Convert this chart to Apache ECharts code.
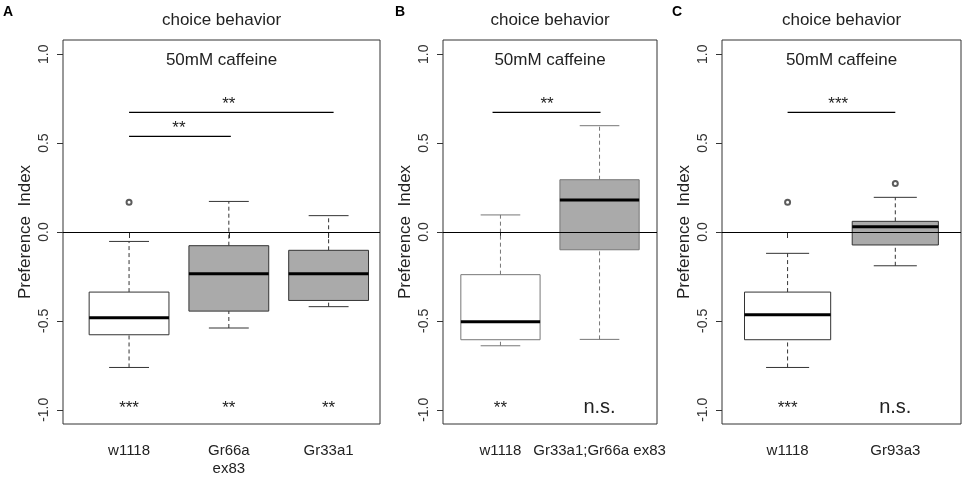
<!DOCTYPE html>
<html>
<head>
<meta charset="utf-8">
<script src="https://cdn.jsdelivr.net/npm/echarts@6/dist/echarts.min.js"></script>
<style>
  html, body { margin: 0; padding: 0; background: #fff; }
  #main { width: 964px; height: 478px; }
</style>
</head>
<body>
<div id="main"></div>
<script>
// panel A
const catsA = ['w1118', 'Gr66a\nex83', 'Gr33a1'];
// [x, low whisker, Q1, median, Q3, high whisker]
const boxA = [
  [1, -0.762, -0.578, -0.482, -0.338, -0.053],
  [2, -0.54, -0.445, -0.235, -0.077, 0.172],
  [3, -0.42, -0.385, -0.235, -0.103, 0.092]
];
const outA = [[1, 0.167]];
const starsA = [[1, -1, '***'], [2, -1, '**'], [3, -1, '**']];
// [x from, x to, y, text, text x]
const sigA = [[1.0, 3.05, 0.673, '**', 2.0], [1.0, 2.02, 0.538, '**', 1.5]];

// panel B
const catsB = ['w1118', 'Gr33a1;Gr66a ex83'];
const boxB = [
  [1, -0.64, -0.606, -0.505, -0.24, 0.096],
  [2, -0.604, -0.1, 0.18, 0.294, 0.598]
];
const outB = [];
const starsB = [[1, -1, '**'], [2, -1, 'n.s.']];
const sigB = [[0.92, 2.01, 0.673, '**', 1.47]];

// panel C
const catsC = ['w1118', 'Gr93a3'];
const boxC = [
  [1, -0.762, -0.606, -0.465, -0.338, -0.12],
  [2, -0.19, -0.073, 0.03, 0.06, 0.195]
];
const outC = [[1, 0.167], [2, 0.273]];
const starsC = [[1, -1, '***'], [2, -1, 'n.s.']];
const sigC = [[1.0, 2.0, 0.673, '***', 1.47]];

const yTicks = [-1, -0.5, 0, 0.5, 1];
const FONT = '"Liberation Sans", Arial, sans-serif';

// pixel layout of the three plot frames, and x ranges
const panels = [
  { letter: 'A', cats: catsA, box: boxA, out: outA, stars: starsA, sig: sigA,
    left: 63, width: 317, xmin: 0.338, xmax: 3.515, edge: '#333', fills: ['#fff', '#aaa', '#aaa'] },
  { letter: 'B', cats: catsB, box: boxB, out: outB, stars: starsB, sig: sigB,
    left: 443, width: 214, xmin: 0.42, xmax: 2.58, edge: '#777', fills: ['#fff', '#aaa'] },
  { letter: 'C', cats: catsC, box: boxC, out: outC, stars: starsC, sig: sigC,
    left: 722, width: 239, xmin: 0.391, xmax: 2.61, edge: '#333', fills: ['#fff', '#aaa'] }
];
const letterX = [3, 395, 672];

const grid = [], xAxis = [], yAxis = [], series = [], graphic = [];

panels.forEach(function (p, i) {
  grid.push({ left: p.left, top: 40, width: p.width, height: 384,
    outerBoundsMode: 'none', containLabel: false,
    show: true, borderColor: '#333', borderWidth: 1, backgroundColor: 'transparent' });

  xAxis.push({
    type: 'value', gridIndex: i, min: p.xmin, max: p.xmax,
    axisLine: { show: false }, splitLine: { show: false },
    axisTick: { show: true, customValues: p.cats.map(function (c, k) { return k + 1; }),
      length: 6, lineStyle: { color: '#333' } },
    axisLabel: {
      customValues: p.cats.map(function (c, k) { return k + 1; }),
      formatter: function (v) { return p.cats[Math.round(v) - 1]; },
      margin: 18, fontSize: 15, color: '#222', fontFamily: FONT, lineHeight: 18,
      verticalAlign: 'top'
    }
  });

  yAxis.push({
    type: 'value', gridIndex: i, min: -1.08, max: 1.08,
    name: 'Preference  Index', nameLocation: 'middle', nameGap: 29, nameRotate: 90,
    nameTextStyle: { fontSize: 17, color: '#222', fontFamily: FONT },
    axisLine: { show: false }, splitLine: { show: false },
    axisTick: { show: true, customValues: yTicks, length: 6, lineStyle: { color: '#333' } },
    axisLabel: {
      customValues: yTicks, rotate: 90, margin: 12, fontSize: 14, color: '#333',
      fontFamily: FONT, formatter: function (v) { return v.toFixed(1); }
    }
  });

  // boxes
  series.push({
    type: 'custom', xAxisIndex: i, yAxisIndex: i, data: p.box,
    renderItem: function (params, api) {
      const x = api.value(0);
      const lo = api.coord([x, api.value(1)]);
      const q1 = api.coord([x, api.value(2)]);
      const md = api.coord([x, api.value(3)]);
      const q3 = api.coord([x, api.value(4)]);
      const hi = api.coord([x, api.value(5)]);
      const hw = api.size([0.4, 0])[0];
      const sw = api.size([0.2, 0])[0];
      const cx = q1[0];
      const dash = { stroke: p.edge, lineWidth: 1, lineDash: [4, 3] };
      const solid = { stroke: p.edge, lineWidth: 1 };
      return {
        type: 'group',
        children: [
          { type: 'line', shape: { x1: cx, y1: q3[1], x2: cx, y2: hi[1] }, style: dash },
          { type: 'line', shape: { x1: cx, y1: lo[1], x2: cx, y2: q1[1] }, style: dash },
          { type: 'line', shape: { x1: cx - sw, y1: hi[1], x2: cx + sw, y2: hi[1] }, style: solid },
          { type: 'line', shape: { x1: cx - sw, y1: lo[1], x2: cx + sw, y2: lo[1] }, style: solid },
          { type: 'rect', shape: { x: cx - hw, y: q3[1], width: hw * 2, height: q1[1] - q3[1] },
            style: { fill: p.fills[params.dataIndex], stroke: p.edge, lineWidth: 1 } },
          { type: 'line', shape: { x1: cx - hw, y1: md[1], x2: cx + hw, y2: md[1] },
            style: { stroke: '#000', lineWidth: 3 } }
        ]
      };
    },
    markLine: {
      silent: true, symbol: 'none', label: { show: false },
      lineStyle: { color: '#000', type: 'solid', width: 1 },
      data: [{ yAxis: 0 }], z: 10
    },
    z: 2
  });

  // outliers
  series.push({
    type: 'scatter', xAxisIndex: i, yAxisIndex: i, data: p.out,
    symbol: 'emptyCircle', symbolSize: 5,
    itemStyle: { color: '#333', borderColor: '#333', borderWidth: 1 }, z: 3
  });

  // significance bars
  series.push({
    type: 'custom', xAxisIndex: i, yAxisIndex: i, data: p.sig,
    renderItem: function (params, api) {
      const a = api.coord([api.value(0), api.value(2)]);
      const b = api.coord([api.value(1), api.value(2)]);
      const t = api.coord([api.value(4), api.value(2)]);
      return {
        type: 'group',
        children: [
          { type: 'line', shape: { x1: a[0], y1: a[1], x2: b[0], y2: b[1] },
            style: { stroke: '#000', lineWidth: 1.3 } },
          { type: 'text', x: t[0], y: t[1] - 8,
            style: { text: p.sig[params.dataIndex][3], fontSize: 17, fontFamily: FONT,
              fill: '#222', align: 'center', verticalAlign: 'middle' } }
        ]
      };
    },
    z: 4
  });

  // per-group stars at the bottom
  series.push({
    type: 'custom', xAxisIndex: i, yAxisIndex: i, data: p.stars,
    renderItem: function (params, api) {
      const c = api.coord([api.value(0), api.value(1)]);
      const txt = p.stars[params.dataIndex][2];
      const ns = txt === 'n.s.';
      return {
        type: 'text', x: c[0], y: ns ? c[1] - 2 : c[1] - 1,
        style: { text: txt, fontSize: ns ? 20 : 17, fontFamily: FONT, fill: '#222',
          align: 'center', verticalAlign: 'middle' }
      };
    },
    z: 4
  });

  const cx = p.left + p.width / 2;
  graphic.push({ type: 'text', x: cx, y: 20,
    style: { text: 'choice behavior', fontSize: 17, fontFamily: FONT, fill: '#222',
      align: 'center', verticalAlign: 'middle' } });
  graphic.push({ type: 'text', x: cx, y: 60,
    style: { text: '50mM caffeine', fontSize: 17, fontFamily: FONT, fill: '#222',
      align: 'center', verticalAlign: 'middle' } });
  graphic.push({ type: 'text', x: letterX[i], y: 5,
    style: { text: p.letter, fontSize: 14, fontWeight: 'bold', fontFamily: FONT, fill: '#000' } });
});

const chart = echarts.init(document.getElementById('main'));
chart.setOption({
  animation: false,
  grid: grid,
  xAxis: xAxis,
  yAxis: yAxis,
  series: series,
  graphic: graphic
});
</script>
</body>
</html>
